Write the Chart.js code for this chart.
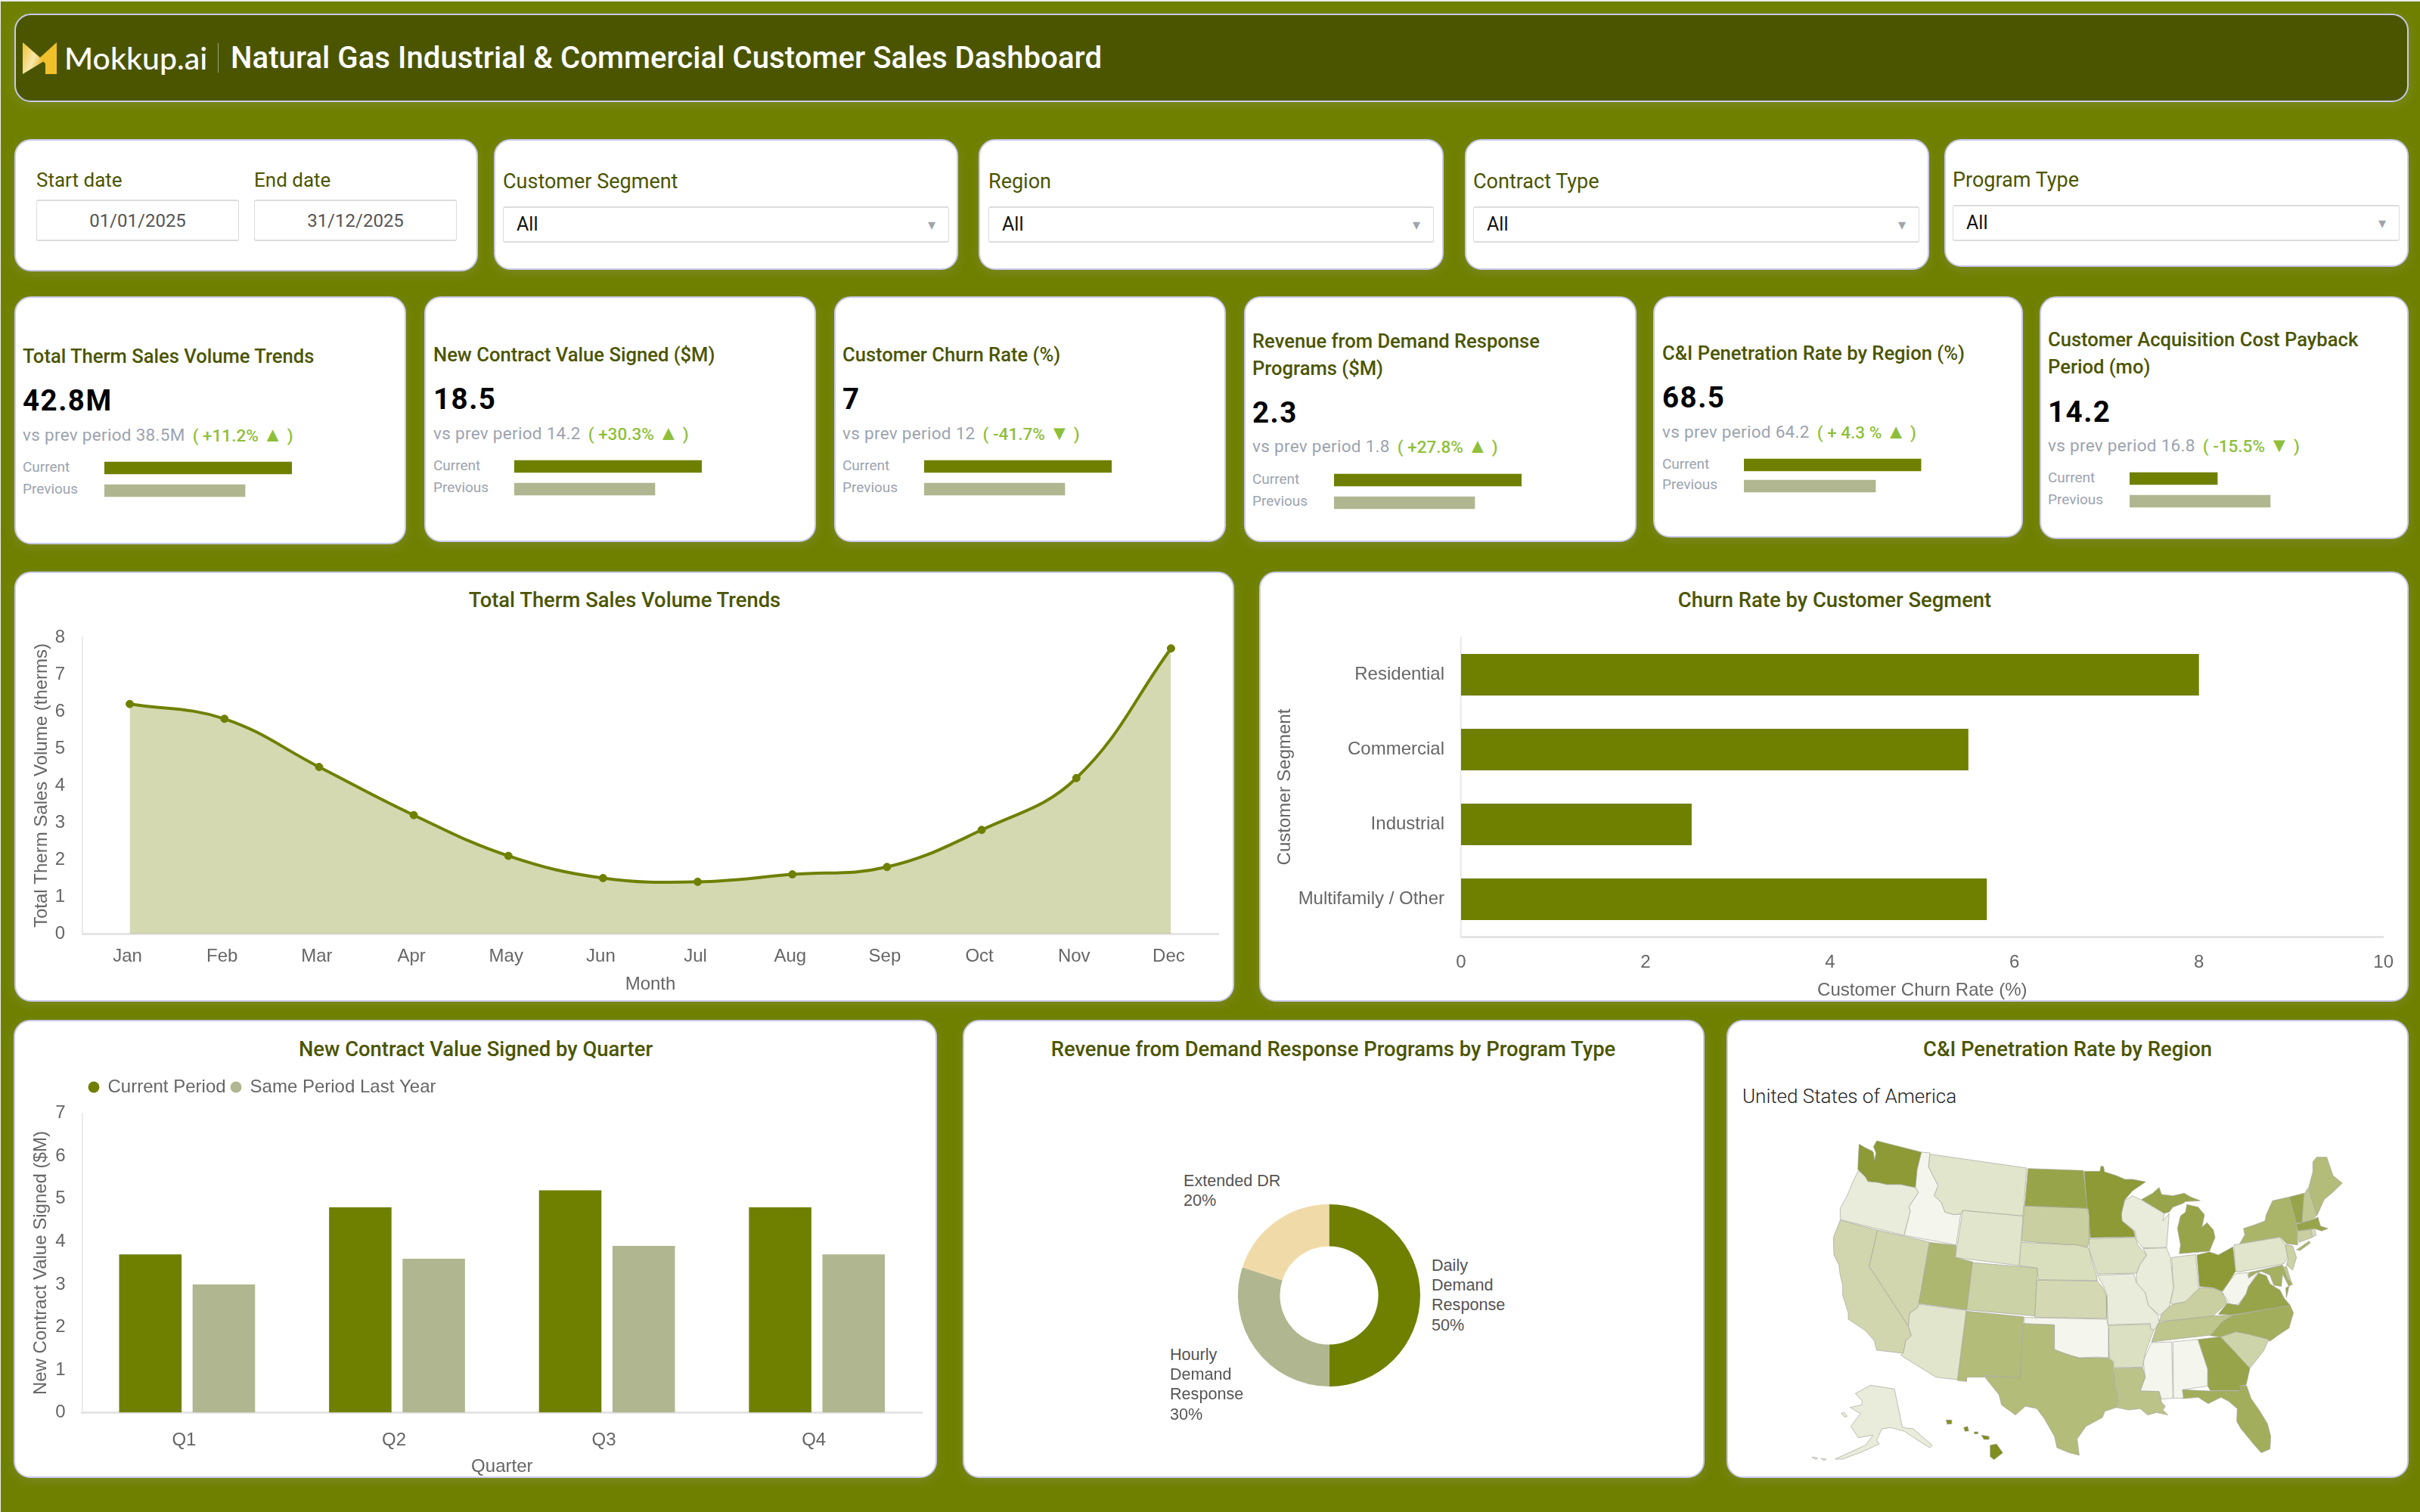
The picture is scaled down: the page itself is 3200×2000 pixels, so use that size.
<!DOCTYPE html>
<html lang="en">
<head>
<meta charset="utf-8">
<title>Natural Gas Industrial & Commercial Customer Sales Dashboard</title>
<script src="https://cdn.jsdelivr.net/npm/chart.js@4"></script>
<style>
  html, body { margin: 0; padding: 0; background: #ececec; }
  #page { position: absolute; left: 1px; top: 2px; width: 3199px; height: 1998px; background: #6f8000; overflow: hidden; }
  #board { position: absolute; left: -1px; top: -2px; width: 3200px; height: 2000px; }
  .card { position: absolute; box-sizing: border-box; background: #fff; border: 2px solid #c9c9ec; border-radius: 22px; box-shadow: 0 4px 14px rgba(170,170,170,.22); }
  .field { position: absolute; box-sizing: border-box; background: #fff; border: 1px solid #dcdcdc; border-top-width: 2px; border-bottom-width: 2px; border-radius: 3px; }
  .txt { position: absolute; white-space: pre; }
  canvas { position: absolute; }
</style>
</head>
<body>
<div id="page"><div id="board"></div></div>
<script>
// Monthly therm volume (millions) for the trend panel
const months = ["Jan","Feb","Mar","Apr","May","Jun","Jul","Aug","Sep","Oct","Nov","Dec"];
const thermVolume = [6.2,5.8,4.5,3.2,2.1,1.5,1.4,1.6,1.8,2.8,4.2,7.7];

// Churn by customer segment
const segments = ["Residential","Commercial","Industrial","Multifamily / Other"];
const segmentChurn = [8.0,5.5,2.5,5.7];

// Contract value by quarter
const quarters = ["Q1","Q2","Q3","Q4"];
const contractCurrent = [3.7,4.8,5.2,4.8];
const contractLastYear = [3.0,3.6,3.9,3.7];

// Demand response revenue split
const programs = ["Daily Demand Response","Hourly Demand Response","Extended DR"];
const programShare = [50,30,20];

// KPI cards
const kpiTitles = [
  ["Total Therm Sales Volume Trends"],
  ["New Contract Value Signed ($M)"],
  ["Customer Churn Rate (%)"],
  ["Revenue from Demand Response","Programs ($M)"],
  ["C&I Penetration Rate by Region (%)"],
  ["Customer Acquisition Cost Payback","Period (mo)"]
];
const kpiValues = ["42.8M","18.5","7","2.3","68.5","14.2"];
const kpiPrevious = ["38.5M","14.2","12","1.8","64.2","16.8"];
const kpiDeltas = ["+11.2%","+30.3%","-41.7%","+27.8%","+ 4.3 %","-15.5%"];
const kpiArrows = ["\u25B2","\u25B2","\u25BC","\u25B2","\u25B2","\u25BC"];
const kpiBarCurrent = [100,100,100,100,94.4,46.8];
const kpiBarPrevious = [75,75,75,75,70.2,75];

// Filter bar
const filterLabels = ["Customer Segment","Region","Contract Type","Program Type"];
const filterValue = "All";
const dateLabels = ["Start date","End date"];
const dateValues = ["01/01/2025","31/12/2025"];

// State penetration rates (%), same order as mapStates
const mapStates = ["WA","OR","ID","MT","WY","ND","SD","NE","KS","CO","UT","NV","CA","AZ","NM","OK","TX",
  "MN","IA","MO","AR","LA","WI","MI","IL","IN","OH","KY","TN","MS","AL","GA","FL","SC","NC","VA","WV","PA",
  "NY","ME","NH","VT","MA","CT","RI","NJ","DE","MD","AK","HI"];
const stateRates = [89,55,51,58,58,85,67,61,63,66,77,64,64,58,75,51,75,
  89,60,55,60,72,55,85,55,57,89,67,71,51,51,85,81,65,81,85,51,58,
  78,75,70,85,85,67,61,66,71,80,55,94];

// State outlines as rings of x,y pairs on the map's own 2220 x 1320 grid
const eastSheet = ring => ring.map((v, i) => i % 2 === 0 ? v + 1080 : v);
const WA = [[335,27,512,72,495,140,488,212,430,200,375,200,340,192,300,188,290,170,260,140,262,90,265,40,290,55,318,68,322,75,326,105,332,75,322,50]];
const OR = [[262,145,290,170,300,188,340,192,375,200,430,200,488,212,500,232,462,290,468,305,443,402,190,340,190,295,215,250,240,190]];
const ID = [[512,72,546,75,540,130,560,170,578,205,562,245,590,270,605,310,640,320,668,318,650,440,443,402,468,305,462,290,500,232,488,212,495,140]];
const MT = [[546,80,930,135,915,325,676,303,668,318,640,320,605,310,590,270,562,245,578,205,560,170,540,130]];
const WY = [[676,303,915,325,900,522,647,490]];
const ND = [[935,137,1155,145,1170,295,922,285]];
const SD = [[920,285,1170,295,1178,325,1178,420,1170,450,1130,440,1080,438,910,425]];
const NE = [[905,430,1080,438,1130,440,1170,450,1178,460,1190,510,1205,555,1210,582,975,578,972,532,900,522]];
const KS = [[970,580,1210,584,1232,610,1245,640,1247,732,962,727]];
const CO = [[715,510,972,532,962,722,692,698]];
const UT = [[545,430,650,442,647,490,715,507,692,698,502,672]];
const NV = [[338,382,543,428,502,672,496,690,465,710,460,762,305,525]];
const CA = [[190,342,338,382,305,525,460,762,472,800,450,820,440,870,335,858,325,820,290,780,222,735,222,710,200,640,200,600,190,560,185,520,165,480,163,410]];
const AZ = [[502,675,690,700,655,975,570,965,430,878,440,868,450,820,472,800,460,762,465,712,496,690]];
const NM = [[690,703,917,725,903,968,758,958,760,965,692,965,690,982,655,978]];
const OK = [[920,728,1247,735,1255,770,1255,888,1210,885,1140,888,1110,880,1080,870,1040,855,1040,757,920,752]];
const TX = [[917,752,1040,757,1040,855,1080,870,1140,888,1210,888,1255,890,1272,903,1277,990,1292,1030,1285,1085,1240,1100,1230,1125,1165,1160,1130,1210,1138,1275,1100,1265,1050,1245,1040,1200,1000,1130,970,1090,925,1080,885,1115,830,1075,820,1035,760,960,903,968]];
const MN = [eastSheet([78,148,140,148,145,127,155,130,158,150,205,165,240,180,270,180,322,190,270,225,238,262,225,320,228,345,275,385,280,408,102,412,95,300,90,295])];
const IA = [eastSheet([97,417,280,410,290,440,325,480,298,520,285,552,130,555,110,495,97,460])];
const MO = [eastSheet([130,560,275,555,285,590,320,630,332,680,370,718,375,745,358,775,342,775,340,752,172,757,168,640,155,605])];
const AR = [eastSheet([172,760,340,755,355,775,320,870,310,925,197,927,195,900,177,888])];
const LA = [eastSheet([197,930,310,928,320,965,300,1020,375,1022,385,1065,400,1080,390,1095,410,1115,365,1105,330,1115,300,1090,255,1095,205,1085,215,1030,197,985])];
const WI = [eastSheet([240,262,270,245,305,262,395,315,390,345,415,315,405,450,310,452,285,420,280,385,228,345,225,310])];
const MI = [eastSheet([305,260,350,235,375,212,385,240,430,245,475,235,500,250,538,265,480,268,470,275,430,290,415,310,395,315]),
            eastSheet([485,280,530,290,555,320,545,370,565,352,590,380,597,410,575,465,455,475,460,440,448,375,460,325,480,310])];
const IL = [eastSheet([312,455,405,452,420,490,432,610,415,685,378,720,332,680,320,630,285,590,285,555,298,520,325,480])];
const IN = [eastSheet([425,490,520,478,532,615,510,635,480,665,430,675,420,670,432,610])];
const OH = [eastSheet([525,480,575,468,610,480,668,448,678,545,650,590,625,625,590,610,535,605])];
const KY = [eastSheet([385,715,415,685,430,675,480,665,510,635,535,610,590,612,625,628,645,670,590,722,420,740,375,745])];
const TN = [eastSheet([372,750,420,740,590,722,665,718,625,745,580,798,345,825,362,775])];
const MS = [eastSheet([345,828,425,825,430,1048,385,1052,375,1022,300,1020,320,965,312,900])];
const AL = [eastSheet([430,825,528,815,568,935,568,1000,467,1015,472,1048,432,1048])];
const GA = [eastSheet([530,815,618,805,680,870,735,930,725,975,720,995,695,1000,700,1018,578,1018,568,1000,568,935])];
const FL = [eastSheet([468,1015,578,1020,695,1020,695,1000,722,998,740,1050,775,1100,805,1150,818,1200,815,1250,780,1265,745,1225,700,1170,683,1140,685,1090,650,1060,620,1045,570,1070,530,1045,470,1050])];
const SC = [eastSheet([620,805,680,785,730,795,810,815,790,860,735,930,680,870])];
const NC = [eastSheet([665,720,895,680,908,710,890,770,845,800,815,822,730,795,680,785,620,805,578,800,625,745])];
const VA = [eastSheet([610,715,645,672,690,680,720,635,730,605,770,552,800,562,815,595,855,620,870,650,895,680,665,718]),
            eastSheet([878,610,890,605,880,650])];
const WV = [eastSheet([625,628,650,590,678,555,725,550,730,572,770,545,730,605,720,635,690,675,660,680,640,650])];
const PA = [eastSheet([672,440,855,410,875,440,885,490,870,515,690,548,678,545])];
const NY = [eastSheet([695,435,715,400,710,375,755,360,795,345,800,320,825,265,892,250,920,350,925,440,880,435,855,408]),
            eastSheet([920,460,970,425,975,432,935,462])];
const ME = [eastSheet([985,110,1000,92,1040,92,1065,165,1102,195,1060,235,1030,260,1002,322,980,255,968,215,985,150])];
const NH = [eastSheet([950,240,965,215,980,255,1002,320,985,340,942,350])];
const VT = [eastSheet([892,250,950,235,942,350,918,355])];
const MA = [eastSheet([920,358,985,340,1005,330,1015,365,1045,375,1020,385,990,375,925,385])];
const CT = [eastSheet([922,388,975,378,983,410,930,430])];
const RI = [eastSheet([978,378,992,375,998,402,985,408])];
const NJ = [eastSheet([878,438,905,445,920,490,905,540,880,520,888,490,875,465])];
const DE = [eastSheet([868,530,880,525,900,590,885,575])];
const MD = [eastSheet([730,550,865,520,885,575,905,595,890,605,865,555,860,605,830,600,815,560,780,545,730,570])];
const AK = [[250,1030,310,997,405,1012,437,1165,480,1170,555,1235,545,1245,490,1210,445,1180,390,1165,355,1170,335,1215,345,1230,280,1260,200,1290,170,1290,290,1235,320,1195,262,1205,232,1160,270,1110,230,1085,275,1075,278,1060],
            [195,1108,205,1105,218,1120,208,1124],[78,1282,100,1285,95,1292],[115,1288,135,1290,125,1296]];
const HI = [[785,1235,810,1230,835,1265,800,1292,785,1280],[750,1195,780,1200,780,1212,760,1212],[722,1182,736,1182,736,1190,722,1190],[680,1165,695,1160,700,1178,685,1180],[610,1135,632,1135,632,1150,615,1152]];
const stateOutlines = {WA,OR,ID,MT,WY,ND,SD,NE,KS,CO,UT,NV,CA,AZ,NM,OK,TX,MN,IA,MO,AR,LA,WI,MI,IL,IN,OH,KY,TN,MS,AL,GA,FL,SC,NC,VA,WV,PA,NY,ME,NH,VT,MA,CT,RI,NJ,DE,MD,AK,HI};

const OLIVE = "#6f8000", SAGE = "#b0b790", SAND = "#f0dba8", HEAD = "#4b5500", TICK = "#666666";
const ROBOTO = "Roboto, sans-serif", ARIAL = "'Liberation Sans', Arial, sans-serif";
const board = document.getElementById("board");

// Absolute text placed by its baseline; line-height 0 centres the em box on "top"
function put(x, base, str, size, family, weight, color, opts = {}) {
  const el = document.createElement("div");
  el.className = "txt";
  el.textContent = str;
  const lift = family === ROBOTO ? 0.342 : 0.347;
  el.style.cssText = `left:${x}px;top:${base - lift * size}px;font:${weight} ${size}px ${family};line-height:0;color:${color};` + (opts.css || "");
  if (opts.center) el.style.transform = "translateX(-50%)";
  board.appendChild(el);
  return el;
}
function box(cls, x0, y0, x1, y1) {
  const el = document.createElement("div");
  el.className = cls;
  el.style.cssText = `left:${x0}px;top:${y0}px;width:${x1 - x0}px;height:${y1 - y0}px;`;
  board.appendChild(el);
  return el;
}
function canvas(x, y, w, h) {
  const c = document.createElement("canvas");
  c.width = w; c.height = h;
  c.style.left = x + "px"; c.style.top = y + "px";
  board.appendChild(c);
  return c;
}

Chart.defaults.animation = false;
Chart.defaults.responsive = false;
Chart.defaults.font.family = ARIAL;
Chart.defaults.color = TICK;
Chart.defaults.plugins.legend.display = false;
Chart.defaults.plugins.tooltip.enabled = false;

/* ---------- header ---------- */
box("card", 19, 18, 3185, 135).style.background = HEAD;
board.insertAdjacentHTML("beforeend", `<svg style="position:absolute;left:30px;top:56px" width="45" height="43" viewBox="0 0 45 43">
  <defs><linearGradient id="fold" x1="0" y1="0" x2="1" y2="0.6"><stop offset="0" stop-color="#f0c22e"/><stop offset="0.6" stop-color="#f7e7ac"/><stop offset="1" stop-color="#e8b824"/></linearGradient></defs>
  <polygon points="0,0 30,28 30,42 45,42 45,0 23,20 0,0" fill="#f0c02a"/>
  <polygon points="0,0 28,25 0,42" fill="url(#fold)"/></svg>`);
put(85, 91, "Mokkup.ai", 41, "Lato, sans-serif", 500, "#ffffff");
const divider = box("", 288, 57, 289, 96);
divider.style.position = "absolute";
divider.style.background = "#9aa477";
put(305, 91, "Natural Gas Industrial & Commercial Customer Sales Dashboard", 40.2, ROBOTO, 500, "#ffffff");

/* ---------- filter bar ---------- */
box("card", 19, 184, 632, 359);
dateLabels.forEach((label, i) => {
  const x = [48, 336][i];
  put(x, 247, label, 26, ROBOTO, 400, HEAD);
  box("field", x, 264, x + 268, 319);
  put(x + 134, 300, dateValues[i], 24, ROBOTO, 400, "#555", {center: true});
});
const filterCards = [[653,1267,357,665,1255,249,273,321],[1294,1909,357,1307,1896,249,273,321],[1937,2551,357,1948,2538,249,273,321],[2571,3185,353,2582,3173,247,271,319]];
filterLabels.forEach((label, i) => {
  const [x0, x1, y1, fx, fr, base, ft, fb] = filterCards[i];
  box("card", x0, 184, x1, y1);
  put(fx, base, label, 27, ROBOTO, 400, HEAD);
  box("field", fx, ft, fr, fb);
  put(fx + 18, ft + 33, filterValue, 25, ROBOTO, 400, "#111");
  put(fr - 23, ft + 31, "\u25BE", 20, ARIAL, 400, "#a0a4aa", {center: true});
});

/* ---------- KPI cards ---------- */
const kpiCards = [
  {x0:19,x1:537,y1:720,tx:30,title:[480],val:543,sub:583,bx:138,b1:611,gap:30},
  {x0:561,x1:1079,y1:717,tx:573,title:[478],val:541,sub:581,bx:680,b1:609,gap:30},
  {x0:1103,x1:1621,y1:717,tx:1114,title:[478],val:541,sub:581,bx:1222,b1:609,gap:30},
  {x0:1645,x1:2164,y1:717,tx:1656,title:[460,496],val:559,sub:598,bx:1764,b1:627,gap:30},
  {x0:2186,x1:2675,y1:711,tx:2198,title:[476],val:539,sub:579,bx:2306,b1:607,gap:28},
  {x0:2697,x1:3185,y1:713,tx:2708,title:[458,494],val:558,sub:597,bx:2816,b1:625,gap:30}
];
kpiCards.forEach((k, i) => {
  box("card", k.x0, 392, k.x1, k.y1);
  kpiTitles[i].forEach((line, j) => put(k.tx, k.title[j], line, 25.6, ROBOTO, 500, HEAD));
  put(k.tx, k.val, kpiValues[i], 38.5, ROBOTO, 700, "#000", {css: "letter-spacing:1.5px;"});
  const prev = put(k.tx, k.sub, "vs prev period " + kpiPrevious[i], 22.5, ROBOTO, 400, "#9ca3af", {css: "letter-spacing:.3px;"});
  const delta = put(k.tx + prev.getBoundingClientRect().width + 10, k.sub, "( " + kpiDeltas[i] + " ", 22.5, ROBOTO, 500, "#8fbf3a");
  const arrow = document.createElement("span");
  arrow.textContent = kpiArrows[i];
  arrow.style.fontSize = "1.2em";
  delta.appendChild(arrow);
  delta.appendChild(document.createTextNode(" )"));
  put(k.tx, k.b1 + 13, "Current", 19, ROBOTO, 400, "#9ca3af");
  put(k.tx, k.b1 + k.gap + 12, "Previous", 19, ROBOTO, 400, "#9ca3af");
  // Paired mini bars sharing a common 0-100 width scale
  new Chart(canvas(k.bx, k.b1 + 8 - k.gap / 2, 248, k.gap * 2), {
    type: "bar",
    data: {labels: ["Current","Previous"], datasets: [{
      data: [kpiBarCurrent[i], kpiBarPrevious[i]],
      backgroundColor: [OLIVE, SAGE],
      barThickness: 16
    }]},
    options: {indexAxis: "y", layout: {padding: 0},
      scales: {x: {display: false, min: 0, max: 100}, y: {display: false}}}
  });
});

/* ---------- shared axis settings ---------- */
const axis = (extra, lineWidth, lineColor) => Object.assign({
  grid: {display: false, drawTicks: false},
  border: {display: true, color: lineColor || "#e4e4e4", width: lineWidth}
}, extra);
const tickFont = {size: 24, family: ARIAL};
const titleFont = {size: 24, family: ARIAL};

/* ---------- therm volume trend ---------- */
box("card", 19, 756, 1632, 1325);
put(826, 803, "Total Therm Sales Volume Trends", 27.4, ROBOTO, 500, HEAD, {center: true});
new Chart(canvas(19, 756, 1613, 569), {
  type: "line",
  data: {labels: months, datasets: [{
    data: thermVolume,
    borderColor: OLIVE, borderWidth: 4,
    backgroundColor: "rgba(111,128,0,0.3)", fill: "origin",
    tension: 0.4,
    pointRadius: 5, pointBackgroundColor: OLIVE, pointBorderColor: OLIVE, pointBorderWidth: 1
  }]},
  options: {
    layout: {padding: {top: 87, right: 21}},
    scales: {
      x: axis({offset: true, afterFit: s => { s.height = 90; },
        ticks: {font: tickFont, padding: 16, labelOffset: -3, maxRotation: 0},
        title: {display: true, text: "Month", font: titleFont, padding: {top: 0, bottom: 8}}}, 3),
      y: axis({min: 0, max: 8, afterFit: s => { s.width = 90; },
        ticks: {font: tickFont, padding: 23, stepSize: 1},
        title: {display: true, text: "Total Therm Sales Volume (therms)", font: titleFont, padding: {top: 22, bottom: 0}}}, 1.5)
    }
  }
});

/* ---------- churn by segment ---------- */
box("card", 1665, 756, 3185, 1325);
put(2426, 803, "Churn Rate by Customer Segment", 27.4, ROBOTO, 500, HEAD, {center: true});
new Chart(canvas(1665, 756, 1520, 569), {
  type: "bar",
  data: {labels: segments, datasets: [{data: segmentChurn, backgroundColor: OLIVE, barPercentage: 0.555, categoryPercentage: 1}]},
  options: {
    indexAxis: "y",
    layout: {padding: {top: 87, right: 29}},
    scales: {
      x: axis({min: 0, max: 10, afterFit: s => { s.height = 86; },
        ticks: {font: tickFont, padding: 20, stepSize: 2},
        title: {display: true, text: "Customer Churn Rate (%)", font: titleFont, padding: {top: 0, bottom: 0}}}, 3),
      y: axis({afterFit: s => { s.width = 267; },
        ticks: {font: tickFont, padding: 22},
        title: {display: true, text: "Customer Segment", font: titleFont, padding: {top: 20, bottom: 0}}}, 1.5)
    }
  }
});

/* ---------- contract value by quarter ---------- */
box("card", 18, 1349, 1239, 1955);
put(629, 1397, "New Contract Value Signed by Quarter", 27.4, ROBOTO, 500, HEAD, {center: true});
new Chart(canvas(18, 1349, 1221, 606), {
  type: "bar",
  data: {labels: quarters, datasets: [
    {label: "Current Period", data: contractCurrent, backgroundColor: OLIVE, categoryPercentage: 0.7, barPercentage: 0.85},
    {label: "Same Period Last Year", data: contractLastYear, backgroundColor: SAGE, categoryPercentage: 0.7, barPercentage: 0.85}
  ]},
  options: {
    layout: {padding: {top: 82.6, right: 20}},
    plugins: {legend: {display: true, position: "top", align: "start",
      labels: {usePointStyle: true, pointStyle: "circle", boxWidth: 13, boxHeight: 10.5, padding: 7, font: {size: 24, family: ARIAL}, color: TICK}}},
    scales: {
      x: axis({afterFit: s => { s.height = 86.4; },
        ticks: {font: tickFont, padding: 22, labelOffset: -4},
        title: {display: true, text: "Quarter", font: titleFont, padding: {top: 0, bottom: 0}}}, 3),
      y: axis({min: 0, max: 7, afterFit: s => { s.width = 90.6; },
        ticks: {font: tickFont, padding: 22, stepSize: 1},
        title: {display: true, text: "New Contract Value Signed ($M)", font: titleFont, padding: {top: 22, bottom: 0}}}, 1.5)
    }
  },
  plugins: [{id: "legendInset", beforeDraw(c) { c.legend.left = 92.5; c.legend.top = 70; }}]
});

/* ---------- demand response split ---------- */
box("card", 1273, 1349, 2254, 1955);
put(1763, 1397, "Revenue from Demand Response Programs by Program Type", 27.4, ROBOTO, 500, HEAD, {center: true});
new Chart(canvas(1637, 1593, 241, 241), {
  type: "doughnut",
  data: {labels: programs, datasets: [{data: programShare, backgroundColor: [OLIVE, SAGE, SAND], borderWidth: 0}]},
  options: {cutout: "54%", layout: {padding: 0}}
});
const sliceLabels = [
  {x: 1893, base: 1681, lines: ["Daily","Demand","Response"]},
  {x: 1547, base: 1799, lines: ["Hourly","Demand","Response"]},
  {x: 1565, base: 1569, lines: ["Extended DR"]}
];
sliceLabels.forEach((s, i) => {
  [...s.lines, programShare[i] + "%"].forEach((line, j) => put(s.x, s.base + j * 26.4, line, 21.6, ARIAL, 400, "#555"));
});

/* ---------- penetration map ---------- */
box("card", 2283, 1349, 3185, 1955);
put(2734, 1397, "C&I Penetration Rate by Region", 27.4, ROBOTO, 500, HEAD, {center: true});
put(2304, 1459, "United States of America", 26, ROBOTO, 300, "#222");

const rampLow = [247, 248, 242], rampHigh = [111, 128, 0];
function rateColour(rate) {
  const t = (rate - 50) / 50;
  const c = rampLow.map((lo, i) => Math.round(lo + (rampHigh[i] - lo) * t));
  return `rgb(${c[0]},${c[1]},${c[2]})`;
}
const stateDatasets = [];
mapStates.forEach((code, i) => {
  stateOutlines[code].forEach(ring => {
    const pts = [];
    for (let j = 0; j < ring.length; j += 2) pts.push({x: ring[j], y: ring[j + 1]});
    pts.push({x: ring[0], y: ring[1]});
    stateDatasets.push({
      label: code, data: pts, showLine: true, tension: 0, pointRadius: 0, clip: false,
      fill: "shape", backgroundColor: rateColour(stateRates[i]),
      borderColor: "rgba(165,167,155,0.7)", borderWidth: 1
    });
  });
});
const mapCanvas = canvas(2370, 1500, 740, 440);
mapCanvas.style.filter = "blur(0.5px)";
new Chart(mapCanvas, {
  type: "scatter",
  data: {datasets: stateDatasets},
  options: {layout: {padding: 0},
    scales: {x: {display: false, type: "linear", min: 0, max: 2220},
             y: {display: false, type: "linear", min: 0, max: 1320, reverse: true}}}
});
</script>
</body>
</html>
